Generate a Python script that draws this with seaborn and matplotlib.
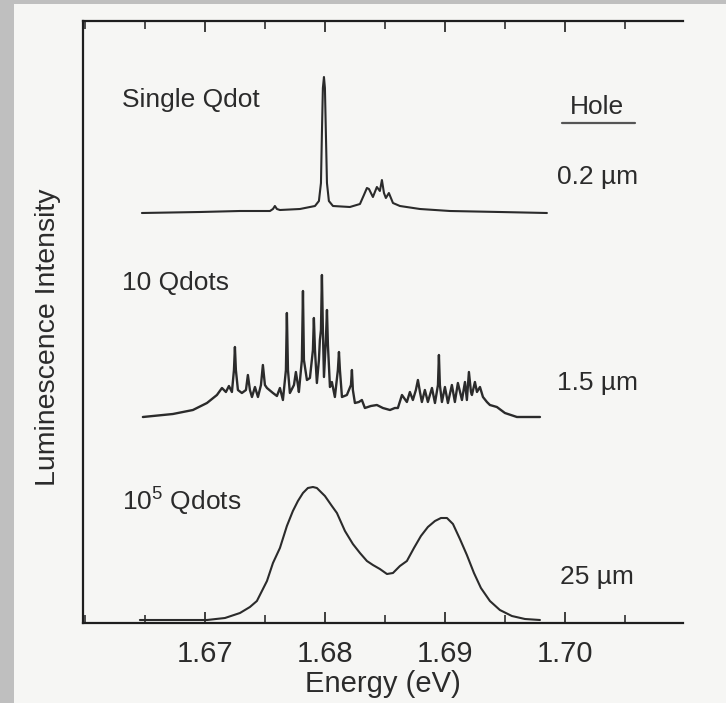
import numpy as np
import pandas as pd
import matplotlib
matplotlib.use("Agg")
import matplotlib.pyplot as plt
from matplotlib.patches import Rectangle
from matplotlib.ticker import MultipleLocator
import seaborn as sns

# ---------------- data (arbitrary intensity units) ----------------
single_energy = [1.66471, 1.66954, 1.67288, 1.67538, 1.67563, 1.67579, 1.67596, 1.67621,
                 1.67788, 1.67913, 1.67946, 1.67963, 1.67971, 1.67979, 1.67988, 1.67996,
                 1.68004, 1.68013, 1.68029, 1.68063, 1.68204, 1.68288, 1.68321, 1.68346,
                 1.68363, 1.68396, 1.68429, 1.68454, 1.68471, 1.68488, 1.68504, 1.68529,
                 1.68563, 1.68621, 1.68788, 1.69038, 1.69454, 1.69846]
single_intensity = [0, 1, 2, 2, 4, 7, 4, 3,
                    4, 7, 12, 30, 80, 125, 136, 125,
                    80, 30, 12, 7, 6, 9, 18, 25,
                    24, 16, 26, 22, 33, 20, 15, 20,
                    10, 7, 4, 2, 1, 0]

ten_energy = [1.66479, 1.66729, 1.66896, 1.67013, 1.67096, 1.67138, 1.67171, 1.67196,
              1.67221, 1.67238, 1.67246, 1.67254, 1.67271, 1.67304, 1.67338, 1.67354,
              1.67371, 1.67388, 1.67413, 1.67438, 1.67463, 1.67479, 1.67496, 1.67513,
              1.67563, 1.67596, 1.67621, 1.67646, 1.67671, 1.67679, 1.67688, 1.67704,
              1.67738, 1.67754, 1.67771, 1.67779, 1.67804, 1.67813, 1.67821, 1.67846,
              1.67871, 1.67896, 1.67904, 1.67913, 1.67929, 1.67946, 1.67954, 1.67963,
              1.67971, 1.67979, 1.67988, 1.68004, 1.68013, 1.68021, 1.68038, 1.68054,
              1.68079, 1.68104, 1.68113, 1.68121, 1.68138, 1.68179, 1.68213, 1.68221,
              1.68229, 1.68246, 1.68279, 1.68304, 1.68329, 1.68379, 1.68429, 1.68479,
              1.68538, 1.68579, 1.68604, 1.68638, 1.68679, 1.68704, 1.68729, 1.68754,
              1.68771, 1.68788, 1.68804, 1.68829, 1.68854, 1.68888, 1.68913, 1.68938,
              1.68946, 1.68954, 1.68971, 1.68996, 1.69021, 1.69054, 1.69079, 1.69104,
              1.69138, 1.69163, 1.69179, 1.69196, 1.69213, 1.69221, 1.69246, 1.69263,
              1.69288, 1.69313, 1.69346, 1.69371, 1.69429, 1.69496, 1.69596, 1.69788]
ten_intensity = [1, 4, 8, 15, 23, 30, 26, 32,
                 26, 48, 71, 48, 28, 25, 28, 43,
                 28, 21, 31, 21, 33, 53, 33, 30,
                 25, 22, 30, 18, 48, 105, 48, 25,
                 33, 46, 33, 26, 58, 127, 58, 38,
                 40, 68, 100, 68, 35, 58, 78, 88,
                 143, 88, 41, 78, 108, 73, 31, 36,
                 21, 48, 66, 48, 21, 23, 33, 48,
                 28, 15, 16, 18, 10, 12, 13, 10,
                 8, 10, 10, 23, 16, 26, 18, 28,
                 38, 26, 16, 28, 16, 30, 15, 33,
                 63, 33, 16, 31, 15, 33, 16, 35,
                 18, 36, 18, 46, 26, 23, 36, 26,
                 31, 21, 16, 13, 11, 5, 1, 1]

ens_energy = [1.66454, 1.67013, 1.67163, 1.67288, 1.67371, 1.67429, 1.67471, 1.67513,
              1.67563, 1.67621, 1.67679, 1.67729, 1.67771, 1.67813, 1.67854, 1.67896,
              1.67929, 1.67954, 1.67996, 1.68054, 1.68096, 1.68163, 1.68229, 1.68288,
              1.68346, 1.68396, 1.68454, 1.68513, 1.68563, 1.68621, 1.68679, 1.68738,
              1.68796, 1.68854, 1.68913, 1.68963, 1.69013, 1.69063, 1.69121, 1.69179,
              1.69238, 1.69296, 1.69371, 1.69454, 1.69554, 1.69663, 1.69788]
ens_intensity = [1, 1, 3, 8, 14, 20, 30, 40,
                 58, 73, 95, 110, 120, 128, 133, 134,
                 133, 130, 125, 115, 108, 90, 77, 68,
                 60, 56, 52, 47, 48, 55, 60, 73,
                 85, 94, 100, 103, 103, 97, 82, 66,
                 48, 33, 20, 11, 5, 2, 1]

spectrum_labels = ["Single Qdot", "10 Qdots", "10$^{\\mathregular{5}}$ Qdots"]
hole_labels = ["0.2 \u00b5m", "1.5 \u00b5m", "25 \u00b5m"]
xticks = [1.67, 1.68, 1.69, 1.70]
xtick_labels = ["1.67", "1.68", "1.69", "1.70"]

# vertical offsets of the stacked spectra
offsets = {"single": 410, "ten": 205, "ens": 2}

# ---------------- styling ----------------
sns.set_style("ticks")
plt.rcParams["font.family"] = ["Liberation Sans", "DejaVu Sans"]
plt.rcParams["mathtext.fontset"] = "custom"
plt.rcParams["mathtext.rm"] = "Liberation Sans"

ink = "#2b2b2b"
paper = "#f6f6f4"
border = "#bfbfbf"

fig = plt.figure(figsize=(7.26, 7.03), dpi=100)
fig.patch.set_facecolor(border)
fig.patches.append(Rectangle((14 / 726, 0), 1, 1 - 4 / 703, transform=fig.transFigure,
                             facecolor=paper, edgecolor="none", zorder=-10))

ax = fig.add_axes([83 / 726, 1 - 623 / 703, 600 / 726, 602 / 703])
ax.set_facecolor("none")

frames = []
for name, e, inten in [("single", single_energy, single_intensity),
                       ("ten", ten_energy, ten_intensity),
                       ("ens", ens_energy, ens_intensity)]:
    frames.append(pd.DataFrame({"energy": e,
                                "signal": np.asarray(inten, float) + offsets[name],
                                "spectrum": name}))
df = pd.concat(frames, ignore_index=True)

widths = {"single": 1.5, "ten": 1.7, "ens": 1.5}
for name in ["single", "ten", "ens"]:
    sns.lineplot(data=df[df.spectrum == name], x="energy", y="signal", ax=ax,
                 color=ink, linewidth=widths[name], estimator=None, sort=True)

ax.set_xlim(1.6598, 1.7098)
ax.set_ylim(0, 602)

# spines
for s in ["left", "bottom", "top"]:
    ax.spines[s].set_color("#1e1e1e")
    ax.spines[s].set_linewidth(1.6)
ax.spines["right"].set_visible(False)

ax.set_yticks([])
ax.set_xticks(xticks)
ax.set_xticklabels(xtick_labels)
ax.xaxis.set_minor_locator(MultipleLocator(0.005))
ax.tick_params(axis="x", which="major", direction="in", length=8, width=1.2,
               top=True, bottom=True, labelsize=21, pad=12, colors="#1e1e1e",
               labelcolor=ink)
ax.tick_params(axis="x", which="minor", direction="in", length=6, width=1.1,
               top=True, bottom=True, colors="#1e1e1e")

ax.set_xlabel("Energy (eV)", fontsize=21, color=ink, labelpad=2)
ax.set_ylabel("Luminescence Intensity", fontsize=20.5, color=ink)
ax.yaxis.set_label_coords(-0.037, 0.475)

# annotations
tr = ax.transAxes
ax.text(0.065, 0.869, spectrum_labels[0], transform=tr, fontsize=19, color=ink,
        ha="left", va="center")
ax.text(0.065, 0.565, spectrum_labels[1], transform=tr, fontsize=19, color=ink,
        ha="left", va="center")
ax.text(0.065, 0.204, spectrum_labels[2], transform=tr, fontsize=19, color=ink,
        ha="left", va="center")

ax.text(0.857, 0.857, "Hole", transform=tr, fontsize=19, color=ink,
        ha="center", va="center")
ax.plot([0.798, 0.92], [0.8306, 0.8306], transform=tr, color="#555555", lw=1.6)
ax.text(0.857, 0.741, hole_labels[0], transform=tr, fontsize=19, color=ink,
        ha="center", va="center")
ax.text(0.857, 0.399, hole_labels[1], transform=tr, fontsize=19, color=ink,
        ha="center", va="center")
ax.text(0.857, 0.0764, hole_labels[2], transform=tr, fontsize=19, color=ink,
        ha="center", va="center")

fig.savefig("out.png", dpi=100, facecolor=fig.get_facecolor())
